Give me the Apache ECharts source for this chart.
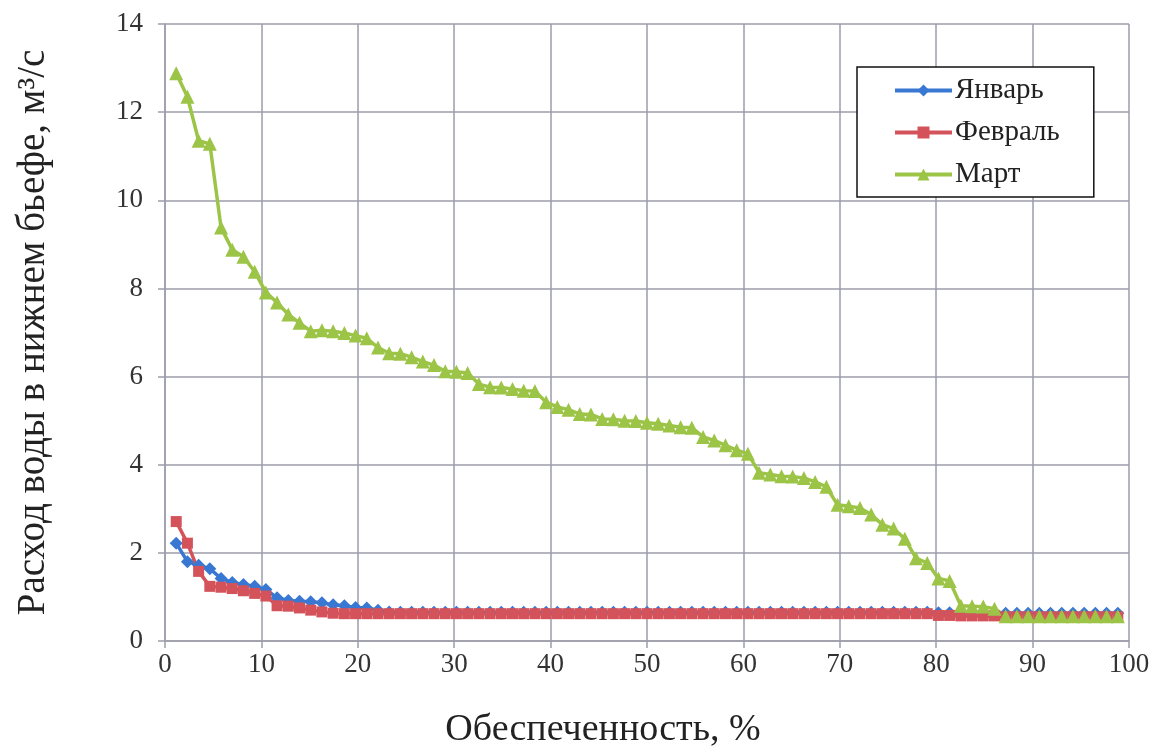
<!DOCTYPE html>
<html>
<head>
<meta charset="utf-8">
<script src="https://cdn.jsdelivr.net/npm/echarts@6/dist/echarts.min.js"></script>
<style>
html,body{margin:0;padding:0;background:#fff;}
#chart{width:1161px;height:754px;}
</style>
</head>
<body>
<div id="chart"></div>
<script>
const seriesNames = ['Январь', 'Февраль', 'Март'];
const xTitle = 'Обеспеченность, %';
const yTitle = 'Расход воды в нижнем бьефе, м³/с';

// Ranked monthly discharges (85 years), m3/s
const january = [
  2.22, 1.80, 1.72, 1.64, 1.42, 1.33, 1.28, 1.24, 1.17, 0.98,
  0.92, 0.90, 0.89, 0.87, 0.82, 0.80, 0.76, 0.75, 0.70, 0.66,
  0.65, 0.65, 0.65, 0.65, 0.65, 0.65, 0.65, 0.65, 0.65, 0.65,
  0.65, 0.65, 0.65, 0.65, 0.65, 0.65, 0.65, 0.65, 0.65, 0.65,
  0.65, 0.65, 0.65, 0.65, 0.65, 0.65, 0.65, 0.65, 0.65, 0.65,
  0.65, 0.65, 0.65, 0.65, 0.65, 0.65, 0.65, 0.65, 0.65, 0.65,
  0.65, 0.65, 0.65, 0.65, 0.65, 0.65, 0.65, 0.65, 0.64, 0.64,
  0.64, 0.64, 0.64, 0.64, 0.63, 0.63, 0.63, 0.63, 0.63, 0.63,
  0.63, 0.63, 0.63, 0.63, 0.63
];
const february = [
  2.71, 2.22, 1.58, 1.24, 1.22, 1.19, 1.14, 1.08, 1.02, 0.80,
  0.79, 0.75, 0.70, 0.66, 0.63, 0.62, 0.62, 0.62, 0.62, 0.62,
  0.62, 0.62, 0.62, 0.62, 0.62, 0.62, 0.62, 0.62, 0.62, 0.62,
  0.62, 0.62, 0.62, 0.62, 0.62, 0.62, 0.62, 0.62, 0.62, 0.62,
  0.62, 0.62, 0.62, 0.62, 0.62, 0.62, 0.62, 0.62, 0.62, 0.62,
  0.62, 0.62, 0.62, 0.62, 0.62, 0.62, 0.62, 0.62, 0.62, 0.62,
  0.62, 0.62, 0.62, 0.62, 0.62, 0.62, 0.62, 0.62, 0.58, 0.58,
  0.57, 0.57, 0.57, 0.57, 0.55, 0.55, 0.55, 0.55, 0.55, 0.55,
  0.55, 0.55, 0.55, 0.55, 0.55
];
const march = [
  12.88, 12.35, 11.35, 11.28, 9.38, 8.88, 8.72, 8.38, 7.91, 7.68,
  7.41, 7.22, 7.03, 7.05, 7.03, 6.99, 6.93, 6.87, 6.66, 6.53,
  6.52, 6.44, 6.34, 6.26, 6.12, 6.11, 6.08, 5.83, 5.76, 5.75,
  5.72, 5.68, 5.67, 5.42, 5.31, 5.25, 5.15, 5.14, 5.04, 5.03,
  5.00, 4.99, 4.95, 4.93, 4.89, 4.85, 4.84, 4.63, 4.55, 4.44,
  4.33, 4.25, 3.82, 3.78, 3.74, 3.73, 3.70, 3.61, 3.50, 3.09,
  3.06, 3.02, 2.87, 2.64, 2.55, 2.32, 1.88, 1.77, 1.42, 1.36,
  0.80, 0.79, 0.78, 0.73, 0.56, 0.56, 0.56, 0.56, 0.56, 0.56,
  0.56, 0.56, 0.56, 0.56, 0.56
];
const xTicks = [0, 10, 20, 30, 40, 50, 60, 70, 80, 90, 100];
const yTicks = [0, 2, 4, 6, 8, 10, 12, 14];

// exceedance probability by rank: m/(n+1)*100
function toPairs(values) {
  return values.map((v, i) => [(i + 1) / (values.length + 1) * 100, v]);
}

const FONT = '"Liberation Serif", "DejaVu Serif", serif';
const gridColor = '#9d9dab';
const colors = ['#3877d2', '#d4535b', '#9cc447'];
const symbols = ['diamond', 'rect', 'triangle'];
const symbolSizes = [13, 11, 14];
const valuesList = [january, february, march];

const chart = echarts.init(document.getElementById('chart'), null, {renderer: 'canvas'});
chart.setOption({
  animation: false,
  backgroundColor: '#fff',
  grid: {left: 165, right: 32, top: 24, bottom: 111},
  legend: {
    orient: 'vertical',
    left: 857,
    top: 67,
    backgroundColor: '#fff',
    borderColor: '#111',
    borderWidth: 1.5,
    padding: [9, 34, 8, 36],
    itemGap: 13,
    itemWidth: 57,
    itemHeight: 15,
    lineStyle: {width: 4},
    textStyle: {fontFamily: FONT, fontSize: 29, color: '#222', padding: [0, 0, 0, -2]},
    data: seriesNames
  },
  xAxis: {
    type: 'value',
    min: xTicks[0],
    max: xTicks[xTicks.length - 1],
    interval: xTicks[1] - xTicks[0],
    name: xTitle,
    nameLocation: 'middle',
    nameGap: 70,
    nameTextStyle: {fontFamily: FONT, fontSize: 38, color: '#222', padding: [0, 88, 0, 0]},
    axisLine: {show: true, lineStyle: {color: gridColor, width: 1.5}},
    axisTick: {show: true, length: 7, lineStyle: {color: gridColor, width: 1.5}},
    axisLabel: {fontFamily: FONT, fontSize: 27, color: '#333', margin: 10},
    splitLine: {show: true, lineStyle: {color: gridColor, width: 1.5}}
  },
  yAxis: {
    type: 'value',
    min: yTicks[0],
    max: yTicks[yTicks.length - 1],
    interval: yTicks[1] - yTicks[0],
    name: yTitle,
    nameLocation: 'middle',
    nameGap: 112,
    nameTextStyle: {fontFamily: FONT, fontSize: 39, color: '#222'},
    axisLine: {show: true, lineStyle: {color: gridColor, width: 1.5}},
    axisTick: {show: true, length: 7, lineStyle: {color: gridColor, width: 1.5}},
    axisLabel: {fontFamily: FONT, fontSize: 27, color: '#333', margin: 22},
    splitLine: {show: true, lineStyle: {color: gridColor, width: 1.5}}
  },
  series: seriesNames.map((name, k) => ({
    name: name,
    type: 'line',
    data: toPairs(valuesList[k]),
    symbol: symbols[k],
    symbolSize: symbolSizes[k],
    showAllSymbol: true,
    color: colors[k],
    lineStyle: {color: colors[k], width: 3.5},
    itemStyle: {color: colors[k]},
    emphasis: {disabled: true}
  }))
});
</script>
</body>
</html>
